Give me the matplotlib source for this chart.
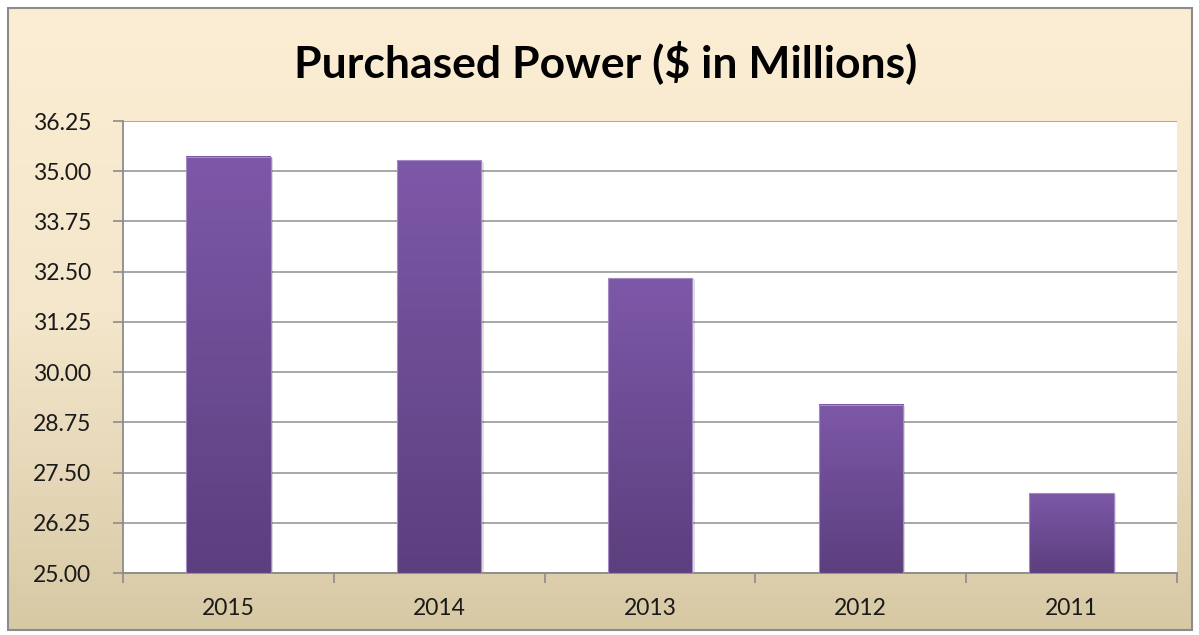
import numpy as np
import matplotlib
matplotlib.use("Agg")
import matplotlib.pyplot as plt
from matplotlib.patches import Rectangle
from matplotlib.colors import LinearSegmentedColormap

years = ["2015", "2014", "2013", "2012", "2011"]
purchased_power = [35.36, 35.27, 32.34, 29.19, 26.98]
y_ticks = [25.00, 26.25, 27.50, 28.75, 30.00, 31.25, 32.50, 33.75, 35.00, 36.25]
title = "Purchased Power ($ in Millions)"

W, H = 1199, 635
fig = plt.figure(figsize=(W / 100, H / 100), dpi=100)
fig.patch.set_facecolor("white")

# Chart background: cream-to-tan vertical gradient inside a gray frame
bg = fig.add_axes([0, 0, 1, 1], zorder=0)
bg.set_xlim(0, W)
bg.set_ylim(H, 0)
bg.axis("off")
x0, y0, x1, y1 = 8, 8, 1192, 630
bg_cmap = LinearSegmentedColormap.from_list("bg", ["#FCEED4", "#F3E6CA", "#D8C9A5"])
grad = np.linspace(0, 1, 256).reshape(-1, 1)
bg.imshow(grad, cmap=bg_cmap, extent=[x0, x1, y1, y0], aspect="auto", zorder=0)
bg.add_patch(Rectangle((x0, y0), x1 - x0, y1 - y0, fill=False,
                       edgecolor="#8C8C8C", linewidth=1.5, zorder=2))

bg.text(606, 62, title, ha="center", va="center", fontsize=32,
        fontweight="bold", family="Lato", color="#000000")

# Plot area
left, right, top, bottom = 123, 1177, 121, 573
ax = fig.add_axes([left / W, 1 - bottom / H, (right - left) / W, (bottom - top) / H], zorder=1)
ax.set_facecolor("white")

x = np.arange(len(years))
bars = ax.bar(x, [v - y_ticks[0] for v in purchased_power], bottom=y_ticks[0],
              width=0.40, color="none", edgecolor="none", zorder=3)

bar_cmap = LinearSegmentedColormap.from_list("bar", ["#5C3F7E", "#7D58A8"])
for patch in bars:
    bx, by = patch.get_x(), patch.get_y()
    bw, bh = patch.get_width(), patch.get_height()
    # soft drop shadow
    ax.add_patch(Rectangle((bx + 0.012, by), bw, bh - 0.03, facecolor="#000000",
                           alpha=0.12, edgecolor="none", zorder=2.5))
    ax.imshow(grad, cmap=bar_cmap, extent=[bx, bx + bw, by, by + bh],
              aspect="auto", zorder=3, origin="lower")
    ax.add_patch(Rectangle((bx, by), bw, bh, fill=False, edgecolor="#A48BC4",
                           linewidth=0.8, zorder=3.5))

ax.set_xlim(-0.5, len(years) - 0.5)
ax.set_ylim(y_ticks[0], y_ticks[-1])
ax.set_yticks(y_ticks)
ax.set_yticklabels([f"{t:.2f}" for t in y_ticks])
ax.yaxis.grid(True, color="#A0A0A0", linewidth=1.3, zorder=1)
ax.set_axisbelow(True)

ax.set_xticks(x)
ax.set_xticklabels(years)
ax.set_xticks(np.arange(-0.5, len(years)), minor=True)
ax.tick_params(axis="x", which="major", length=0, pad=18)
ax.tick_params(axis="x", which="minor", length=7, color="#8C8C8C", width=1.2)
ax.tick_params(axis="y", length=7, color="#8C8C8C", width=1.2, pad=16)
for lab in ax.get_xticklabels() + ax.get_yticklabels():
    lab.set_fontsize(16.5)
    lab.set_family("Lato")
    lab.set_color("#1A1A1A")

for side in ["top", "right"]:
    ax.spines[side].set_visible(False)
for side in ["left", "bottom"]:
    ax.spines[side].set_color("#8C8C8C")
    ax.spines[side].set_linewidth(1.3)

fig.savefig("out.png", dpi=100)
